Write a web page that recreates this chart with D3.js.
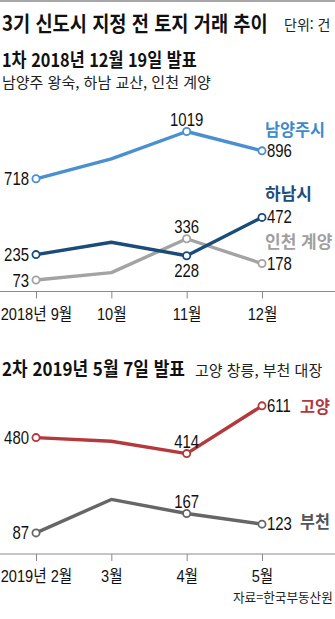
<!DOCTYPE html>
<html lang="ko">
<head>
<meta charset="utf-8">
<script src="https://cdn.jsdelivr.net/npm/d3@7"></script>
<style>
  html, body { margin: 0; padding: 0; background: #fff; }
  svg { display: block; }
  text { font-family: "Liberation Sans", "Noto Sans CJK KR", sans-serif; }
</style>
</head>
<body>
<svg id="chart" width="335" height="619"></svg>
<script>
// 1차 발표 지역 (2018년 9월~12월)
const months1 = ["2018년 9월", "10월", "11월", "12월"];
const namyangju = [718, 845, 1019, 896];
const hanam = [235, 314, 228, 472];
const incheon = [73, 120, 336, 178];

// 2차 발표 지역 (2019년 2월~5월)
const months2 = ["2019년 2월", "3월", "4월", "5월"];
const goyang = [480, 465, 414, 611];
const bucheon = [87, 225, 167, 123];

// which points carry a value label, and where it sits
const labelPos1 = {
  namyangju: ["left", null, "above", "right"],
  hanam: ["left", null, "below", "right"],
  incheon: ["left", null, "above", "right"]
};
const labelPos2 = {
  goyang: ["left", null, "above", "right"],
  bucheon: ["left", null, "above", "right"]
};

const W = 335;
const svg = d3.select("#chart");
const KR = '"Noto Sans CJK KR", sans-serif';

// squeeze a text horizontally by factor k, about its own anchor point
function condense(sel, k) {
  sel.each(function () {
    const t = d3.select(this);
    const x = +t.attr("x") || 0, y = +t.attr("y") || 0;
    t.attr("x", null).attr("y", null)
      .attr("transform", `translate(${x},${y}) scale(${k},1)`);
  });
  return sel;
}
// squeeze a text to a given drawn width
function fit(sel, w) {
  const k = w / sel.node().getComputedTextLength();
  return condense(sel, Math.min(1, k));
}

// top rule
svg.append("line").attr("x1", 0).attr("x2", W).attr("y1", 1).attr("y2", 1)
  .attr("stroke", "#8a8a8a").attr("stroke-width", 1.5);

// headline
fit(svg.append("text").attr("x", 2).attr("y", 31)
  .style("font-family", KR).style("font-size", "21px").style("font-weight", 700)
  .attr("fill", "#111").text("3기 신도시 지정 전 토지 거래 추이"), 266);
fit(svg.append("text").attr("x", 284).attr("y", 30)
  .style("font-family", KR).style("font-size", "14px").attr("fill", "#222")
  .text("단위: 건"), 49);

function heading(y, title, titleW, sub, subY, subX, subW) {
  fit(svg.append("text").attr("x", 2).attr("y", y)
    .style("font-family", KR).style("font-size", "19px").style("font-weight", 700)
    .attr("fill", "#111").text(title), titleW);
  fit(svg.append("text").attr("x", subX).attr("y", subY)
    .style("font-family", KR).style("font-size", "15px").attr("fill", "#222")
    .text(sub), subW);
}

function panel(cfg) {
  const g = svg.append("g");
  const x = d3.scalePoint().domain(cfg.months).range([36, 262]);
  const y = d3.scaleLinear().domain([0, cfg.maxV]).range([cfg.axisY, cfg.topY]);

  // axis: full-width baseline with short downward ticks
  g.append("line").attr("x1", 0).attr("x2", W).attr("y1", cfg.axisY).attr("y2", cfg.axisY)
    .attr("stroke", "#8a8a8a").attr("stroke-width", 1);
  const ax = g.append("g").attr("transform", `translate(0,${cfg.axisY})`)
    .call(d3.axisBottom(x).tickSize(7).tickPadding(9).tickSizeOuter(0));
  ax.select(".domain").remove();
  ax.selectAll(".tick line").attr("stroke", "#8a8a8a");
  ax.selectAll(".tick text").attr("fill", "#111").style("font-size", "17px")
    .attr("dy", "0.71em");
  ax.selectAll(".tick text").each(function () {
    condense(d3.select(this), 0.86);
  });

  const line = d3.line().x((d, i) => x(cfg.months[i])).y(d => y(d));

  cfg.series.forEach(s => {
    g.append("path").datum(s.values).attr("d", line)
      .attr("fill", "none").attr("stroke", s.color).attr("stroke-width", 3.4)
      .attr("stroke-linejoin", "round");
    s.values.forEach((v, i) => {
      const pos = s.labels[i];
      if (!pos) return;
      const cx = x(cfg.months[i]), cy = y(v);
      g.append("circle").attr("cx", cx).attr("cy", cy).attr("r", 3.6)
        .attr("fill", "#fff").attr("stroke", s.color).attr("stroke-width", 1.8);
      const t = g.append("text").attr("fill", "#111").style("font-size", "18px").text(v);
      if (pos === "left") t.attr("x", cx - 7).attr("y", cy + 6.5).attr("text-anchor", "end");
      if (pos === "right") t.attr("x", cx + 5).attr("y", cy + 6).attr("text-anchor", "start");
      if (pos === "above") t.attr("x", cx).attr("y", cy - 6).attr("text-anchor", "middle");
      if (pos === "below") t.attr("x", cx).attr("y", cy + 21).attr("text-anchor", "middle");
      condense(t, 0.83);
    });
    // series name
    fit(g.append("text").attr("x", s.nameX).attr("y", s.nameY)
      .style("font-family", KR).style("font-size", "17px").style("font-weight", 700)
      .attr("fill", s.nameColor).text(s.name), s.nameW);
  });
}

heading(67, "1차 2018년 12월 19일 발표", 195, "남양주 왕숙, 하남 교산, 인천 계양", 88, 2, 212);
panel({
  months: months1, maxV: 1100, axisY: 291.5, topY: 291.5 - 1100 * 0.157,
  series: [
    { name: "남양주시", values: namyangju, labels: labelPos1.namyangju, color: "#4a8fcf", nameColor: "#3f8acb", nameX: 265, nameY: 136, nameW: 60 },
    { name: "인천 계양", values: incheon, labels: labelPos1.incheon, color: "#a3a3a3", nameColor: "#a0a0a0", nameX: 265, nameY: 248, nameW: 68 },
    { name: "하남시", values: hanam, labels: labelPos1.hanam, color: "#1b4b79", nameColor: "#1d4d7c", nameX: 265, nameY: 200, nameW: 47 }
  ]
});

heading(376, "2차 2019년 5월 7일 발표", 183, "고양 창릉, 부천 대장", 376, 195, 130);
panel({
  months: months2, maxV: 700, axisY: 554, topY: 554 - 700 * 0.2425,
  series: [
    { name: "고양", values: goyang, labels: labelPos2.goyang, color: "#b5383d", nameColor: "#b3383d", nameX: 300, nameY: 413, nameW: 30 },
    { name: "부천", values: bucheon, labels: labelPos2.bucheon, color: "#666666", nameColor: "#555555", nameX: 300, nameY: 528, nameW: 30 }
  ]
});

// source note
fit(svg.append("text").attr("x", 233).attr("y", 602)
  .style("font-family", KR).style("font-size", "13px").attr("fill", "#222")
  .text("자료=한국부동산원"), 100);
</script>
</body>
</html>
